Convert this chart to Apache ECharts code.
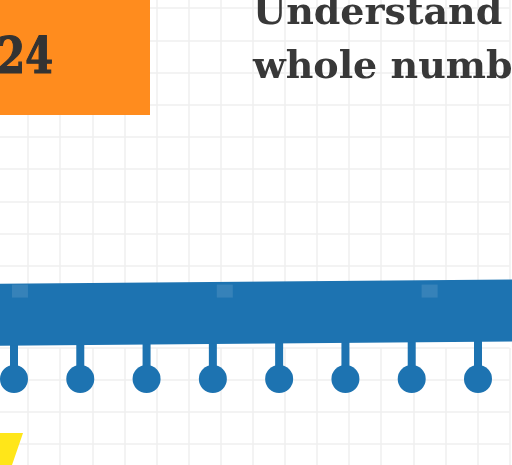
<!DOCTYPE html>
<html>
<head>
<meta charset="utf-8">
<script src="https://cdn.jsdelivr.net/npm/echarts@6/dist/echarts.min.js"></script>
<style>
html,body{margin:0;padding:0;background:#fff;}
#c{width:512px;height:465px;}
</style>
</head>
<body>
<div id="c"></div>
<script>
// ---- data ----
const badgeText = '24';
const titleLines = ['Understand the', 'whole numbers'];
const numberLineTicks = [0, 1, 2, 3, 4, 5, 6, 7];
const bandEnds = [[-0.5, 9.78], [7.8, 9.64]];   // number-line band (ticks, squares down)
const stemTop = 10.5;                            // where tick stems leave the band
const dotLevel = 11.77;                          // level of the tick dots
const bandPatches = [[0.09, 9.04], [3.18, 9.04], [6.27, 9.04]];

const BLUE = '#1d73b1';
const chart = echarts.init(document.getElementById('c'), null, {renderer: 'canvas'});

function gridAxisX(gi) {
  return {gridIndex: gi, type: 'value', min: 0, max: 16, interval: 1,
    axisLine: {show: false}, axisTick: {show: false}, axisLabel: {show: false},
    splitLine: {show: true, lineStyle: {color: '#efefef', width: 1.5}}};
}
function gridAxisY(gi, max) {
  return {gridIndex: gi, type: 'value', min: 0, max: max, interval: 1, inverse: true,
    axisLine: {show: false}, axisTick: {show: false}, axisLabel: {show: false},
    splitLine: {show: true, lineStyle: {color: '#efefef', width: 1.5}}};
}

const option = {
  backgroundColor: '#ffffff',
  animation: false,
  grid: [
    {left: -4, right: 2.4, top: -24, bottom: 167, outerBoundsMode: 'none', containLabel: false},
    {left: -4, right: 2.4, top: 348, bottom: -43, outerBoundsMode: 'none', containLabel: false},
    {left: 0, right: 0, top: 0, bottom: 0, outerBoundsMode: 'none'}
  ],
  xAxis: [
    gridAxisX(0),
    gridAxisX(1),
    {gridIndex: 2, type: 'value', min: -0.2112, max: 7.513, show: false}
  ],
  yAxis: [
    gridAxisY(0, 10),
    gridAxisY(1, 5),
    {gridIndex: 2, type: 'value', min: 0, max: 465 / 32.2, inverse: true, show: false}
  ],
  series: [
    {
      type: 'line', xAxisIndex: 2, yAxisIndex: 2, data: bandEnds,
      symbol: 'none', clip: false, z: 3,
      lineStyle: {color: BLUE, width: 62, cap: 'butt'}
    },
    {
      type: 'scatter', xAxisIndex: 2, yAxisIndex: 2, data: bandPatches,
      symbol: 'rect', symbolSize: [16, 13], z: 4, silent: true,
      itemStyle: {color: 'rgba(255,255,255,0.14)'}
    },
    {
      type: 'custom', xAxisIndex: 2, yAxisIndex: 2, z: 3,
      data: numberLineTicks.map(n => [n, dotLevel]),
      renderItem: function (params, api) {
        const p = api.coord([api.value(0), api.value(1)]);
        const t = api.coord([api.value(0), stemTop]);
        return {
          type: 'group',
          children: [
            {type: 'line', shape: {x1: p[0], y1: t[1], x2: p[0], y2: p[1]},
             style: {stroke: BLUE, lineWidth: 8}},
            {type: 'circle', shape: {cx: p[0], cy: p[1], r: 14},
             style: {fill: BLUE}}
          ]
        };
      }
    }
  ],
  graphic: [
    {type: 'rect', z: 50, shape: {x: 0, y: 0, width: 150, height: 115},
     style: {fill: '#ff8c1e'}},
    {type: 'text', z: 51, x: 53, y: 60, originX: 0, originY: 0, scaleX: 0.8,
     style: {text: badgeText, fill: '#333333', font: 'bold 50px "DejaVu Serif"',
             stroke: '#333333', lineWidth: 1.2,
             textAlign: 'right', textVerticalAlign: 'middle'}},
    {type: 'text', z: 51, x: 253, y: 14,
     style: {text: titleLines[0], fill: '#383838', font: 'bold 38px "DejaVu Serif"',
             textAlign: 'left', textVerticalAlign: 'middle'}},
    {type: 'text', z: 51, x: 253, y: 68.5,
     style: {text: titleLines[1], fill: '#383838', font: 'bold 38px "DejaVu Serif"',
             textAlign: 'left', textVerticalAlign: 'middle'}},
    {type: 'polygon', z: 50, shape: {points: [[0, 433], [23, 433], [12, 465], [0, 465]]},
     style: {fill: '#ffe619'}}
  ]
};
chart.setOption(option);
</script>
</body>
</html>
